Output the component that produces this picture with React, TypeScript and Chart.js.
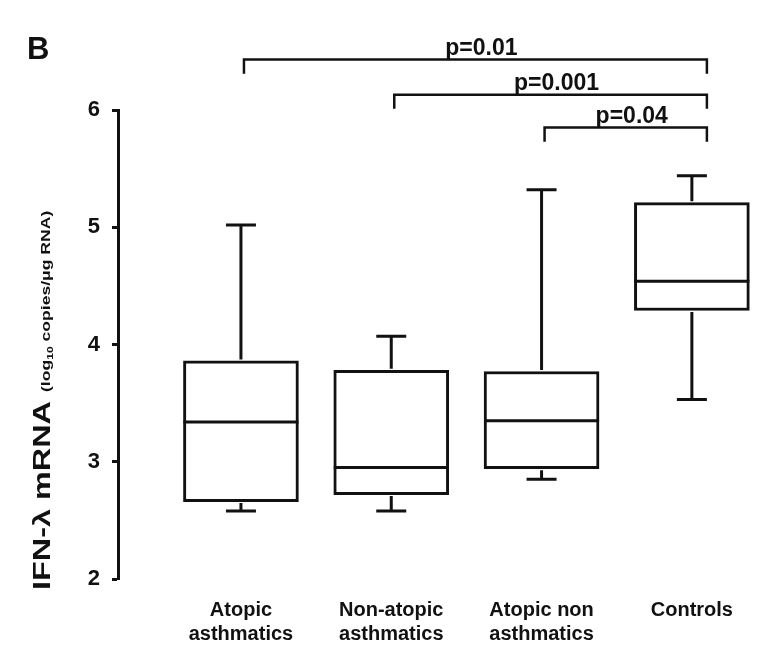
import React, { useEffect, useRef } from "react";
import { Chart, registerables } from "chart.js";

Chart.register(...registerables);

// ---- data ----
const categories: string[][] = [
  ["Atopic", "asthmatics"],
  ["Non-atopic", "asthmatics"],
  ["Atopic non", "asthmatics"],
  ["Controls"],
];
const whiskerLow = [2.58, 2.58, 2.85, 3.53];
const q1 = [2.66, 2.72, 2.94, 4.29];
const median = [3.34, 2.95, 3.35, 4.54];
const q3 = [3.86, 3.78, 3.77, 5.21];
const whiskerHigh = [5.02, 4.07, 5.32, 5.44];
const yTicks = [2, 3, 4, 5, 6];
const compFrom = [0, 1, 2];
const compTo = [3, 3, 3];
const compLabels = ["p=0.01", "p=0.001", "p=0.04"];

const FONT = "'Liberation Sans', Arial, Helvetica, sans-serif";
const INK = "#111";

const boxPlugin = {
  id: "boxExtras",
  afterDatasetsDraw(chart: any) {
    const ctx = chart.ctx as CanvasRenderingContext2D;
    const xs = chart.scales.x;
    const ys = chart.scales.y;
    const meta = chart.getDatasetMeta(0);
    ctx.save();
    ctx.strokeStyle = INK;
    ctx.fillStyle = INK;
    ctx.lineWidth = 3;
    ctx.lineCap = "butt";
    const capHalf = 15;
    for (let i = 0; i < q1.length; i++) {
      const bar = meta.data[i];
      const half = bar.width / 2;
      const cx = xs.getPixelForValue(i);
      const yMed = ys.getPixelForValue(median[i]);
      const yQ1 = ys.getPixelForValue(q1[i]);
      const yQ3 = ys.getPixelForValue(q3[i]);
      const yLo = ys.getPixelForValue(whiskerLow[i]);
      const yHi = ys.getPixelForValue(whiskerHigh[i]);
      ctx.beginPath();
      ctx.moveTo(cx - half, yMed);
      ctx.lineTo(cx + half, yMed);
      ctx.moveTo(cx, yQ3 - 1.5);
      ctx.lineTo(cx, yHi);
      ctx.moveTo(cx - capHalf, yHi);
      ctx.lineTo(cx + capHalf, yHi);
      ctx.moveTo(cx, yQ1 + 1.5);
      ctx.lineTo(cx, yLo);
      ctx.moveTo(cx - capHalf, yLo);
      ctx.lineTo(cx + capHalf, yLo);
      ctx.stroke();
    }

    // significance brackets
    const levels = [6.43, 6.13, 5.85];
    const drop = 0.12;
    ctx.lineWidth = 2.5;
    ctx.font = `bold 23px ${FONT}`;
    ctx.textAlign = "center";
    ctx.textBaseline = "alphabetic";
    for (let k = 0; k < compLabels.length; k++) {
      const x1 = xs.getPixelForValue(compFrom[k] + 0.02);
      const x2 = xs.getPixelForValue(compTo[k] + 0.1);
      const y = ys.getPixelForValue(levels[k]);
      const yd = ys.getPixelForValue(levels[k] - drop);
      ctx.beginPath();
      ctx.moveTo(x1, yd);
      ctx.lineTo(x1, y);
      ctx.lineTo(x2, y);
      ctx.lineTo(x2, yd);
      ctx.stroke();
      ctx.fillText(compLabels[k], (x1 + x2) / 2 + 6, y - 5);
    }

    // panel letter
    ctx.textAlign = "left";
    ctx.font = `bold 31px ${FONT}`;
    ctx.fillText("B", 27, 59);

    // y axis title (rotated, mixed sizes, stretched along its length)
    const parts = [
      { t: "IFN-\u03bb mRNA ", f: `bold 24px ${FONT}`, dy: 0 },
      { t: "(log", f: `bold 13px ${FONT}`, dy: 0 },
      { t: "10", f: `bold 9px ${FONT}`, dy: 3 },
      { t: " copies/\u03bcg RNA)", f: `bold 13px ${FONT}`, dy: 0 },
    ];
    const stretch = 1.35;
    ctx.translate(50, 590);
    ctx.rotate(-Math.PI / 2);
    ctx.scale(stretch, 1);
    let x = 0;
    for (const p of parts) {
      ctx.font = p.f;
      ctx.fillText(p.t, x, p.dy);
      x += ctx.measureText(p.t).width;
    }
    ctx.restore();
  },
};

export default function App() {
  const ref = useRef<HTMLCanvasElement | null>(null);
  useEffect(() => {
    if (!ref.current) return;
    const chart = new Chart(ref.current, {
      type: "bar",
      data: {
        datasets: [
          {
            data: q1.map((v, i) => ({ x: i, y: [v, q3[i]] })) as any,
            backgroundColor: "#ffffff",
            borderColor: INK,
            borderWidth: 3,
            borderSkipped: false,
            barThickness: 115,
          },
        ],
      },
      options: {
        animation: false,
        responsive: false,
        layout: { padding: { top: 110, right: 6, left: 0, bottom: 0 } },
        plugins: { legend: { display: false }, tooltip: { enabled: false } },
        scales: {
          x: {
            type: "linear",
            offset: false,
            min: -0.818,
            max: 3.42,
            grid: { display: false, drawTicks: false, offset: false },
            border: { display: false },
            afterBuildTicks: (s: any) => {
              s.ticks = categories.map((_, i) => ({ value: i }));
            },
            afterFit: (s: any) => {
              s.height = 67;
            },
            ticks: {
              callback: (v: any) => categories[v as number],
              font: { family: FONT, size: 20, weight: "bold", lineHeight: 1.22 },
              color: INK,
              padding: 19,
              maxRotation: 0,
              autoSkip: false,
            },
          },
          y: {
            min: 2,
            max: 6,
            afterBuildTicks: (s: any) => {
              s.ticks = yTicks.map((v) => ({ value: v }));
            },
            afterFit: (s: any) => {
              s.width = 118;
            },
            grid: {
              drawOnChartArea: false,
              drawTicks: true,
              tickLength: 6,
              tickWidth: 3,
              tickColor: INK,
            },
            border: { display: true, color: INK, width: 3 },
            ticks: {
              font: { family: FONT, size: 22, weight: "bold" },
              color: INK,
              padding: 12,
            },
          },
        },
      },
      plugins: [boxPlugin],
    });
    return () => chart.destroy();
  }, []);
  return (
    <div style={{ position: "fixed", left: 0, top: 0, width: 761, height: 646, background: "#fff" }}>
      <canvas ref={ref} width={761} height={646} />
    </div>
  );
}
